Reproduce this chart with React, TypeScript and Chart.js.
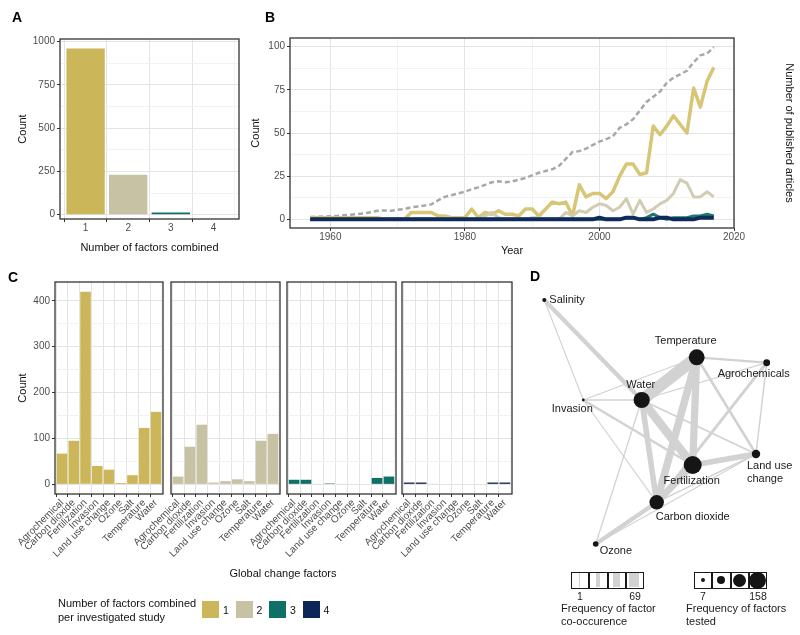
import React, { useEffect, useRef } from 'react';
import { Chart, registerables } from 'chart.js';

Chart.register(...registerables);

const FONT = '"Liberation Sans", Arial, Helvetica, sans-serif';
Chart.defaults.font.family = FONT;

// ---------------- DATA ----------------
// Panel A
const factorsCombined = [1, 2, 3, 4];
const studiesPerCombination = [960, 230, 13, 2];

// Panel B
const years = [
  1957, 1958, 1959, 1960, 1961, 1962, 1963, 1964, 1965, 1966, 1967, 1968, 1969, 1970, 1971, 1972, 1973, 1974, 1975, 1976,
  1977, 1978, 1979, 1980, 1981, 1982, 1983, 1984, 1985, 1986, 1987, 1988, 1989, 1990, 1991, 1992, 1993, 1994, 1995, 1996,
  1997, 1998, 1999, 2000, 2001, 2002, 2003, 2004, 2005, 2006, 2007, 2008, 2009, 2010, 2011, 2012, 2013, 2014, 2015, 2016,
  2017,
];
const oneFactorStudies = [
  1, 1, 1, 1, 1, 1, 1, 1, 1, 1, 1, 0, 0, 0, 0, 4, 4, 4, 4, 2,
  2, 1, 1, 1, 6, 1, 4, 3, 5, 3, 3, 2, 6, 6, 2, 6, 10, 9, 10, 2,
  20, 13, 15, 15, 12, 16, 25, 32, 32, 26, 27, 54, 49, 54, 60, 55, 50, 76, 65, 80,
  88,
];
const twoFactorStudies = [
  0, 0, 0, 0, 0, 0, 0, 0, 0, 0, 0, 0, 0, 0, 0, 0, 0, 0, 0, 0,
  1, 1, 0, 0, 0, 0, 2, 4, 1, 0, 0, 0, 0, 1, 1, 0, 0, 0, 4, 2,
  5, 4, 7, 9, 8, 5, 7, 12, 3, 11, 4, 6, 9, 11, 15, 23, 21, 13, 13, 16,
  13,
];
const threeFactorStudies = [
  0, 0, 0, 0, 0, 0, 0, 0, 0, 0, 0, 0, 0, 0, 0, 0, 0, 0, 0, 0,
  0, 0, 0, 0, 0, 0, 0, 0, 0, 0, 0, 0, 0, 0, 0, 0, 0, 0, 0, 0,
  0, 0, 0, 0, 0, 0, 0, 1, 1, 0, 1, 3, 1, 0, 1, 1, 1, 2, 2, 3,
  2,
];
const fourFactorStudies = [
  0, 0, 0, 0, 0, 0, 0, 0, 0, 0, 0, 0, 0, 0, 0, 0, 0, 0, 0, 0,
  0, 0, 0, 0, 0, 0, 0, 0, 0, 0, 0, 0, 0, 0, 0, 0, 0, 0, 0, 0,
  0, 0, 0, 1, 0, 0, 0, 1, 1, 0, 0, 0, 1, 1, 0, 0, 0, 0, 1, 1,
  1,
];
const publishedArticles = [
  400, 450, 500, 550, 600, 700, 800, 900, 1050, 1250, 1500, 1550, 1500, 1650, 1800, 2100, 2250, 2400, 2600, 3300,
  3900, 4200, 4500, 4800, 5250, 5550, 6000, 6450, 6600, 6450, 6600, 6900, 7200, 7650, 8100, 8400, 8700, 9300, 10500, 11700,
  11850, 12300, 12900, 13500, 13950, 14400, 15900, 16500, 17400, 18900, 20400, 21300, 22200, 23700, 24600, 25200, 25800, 27300, 28500, 28800,
  29900,
];

// Panel C
const factorNames = ['Agrochemical', 'Carbon dioxide', 'Fertilization', 'Invasion', 'Land use change', 'Ozone', 'Salt', 'Temperature', 'Water'];
const countsOneFactor = [67, 95, 420, 40, 32, 3, 20, 123, 158];
const countsTwoFactors = [17, 82, 130, 4, 7, 11, 7, 95, 110];
const countsThreeFactors = [10, 10, 1, 2, 1, 0, 0, 14, 17];
const countsFourFactors = [4, 4, 1, 0, 0, 0, 0, 4, 4];

// Panel D (network layout coordinates and frequencies)
const nodeNames = ['Salinity', 'Temperature', 'Agrochemicals', 'Water', 'Invasion', 'Fertilization', 'Land use change', 'Carbon dioxide', 'Ozone'];
const nodeLayoutX = [24.3, 176.7, 246.7, 121.7, 63.3, 172.7, 236, 136.7, 75.7];
const nodeLayoutY = [50, 107.3, 112.7, 150, 150, 215, 204, 252.3, 294];
const nodeFrequency = [12, 125, 28, 130, 7, 158, 40, 105, 20];
const edgeFrom = ['Temperature', 'Water', 'Temperature', 'Temperature', 'Water', 'Fertilization', 'Fertilization', 'Salinity', 'Carbon dioxide', 'Agrochemicals', 'Temperature', 'Temperature', 'Invasion', 'Water', 'Agrochemicals', 'Salinity', 'Invasion', 'Invasion', 'Invasion', 'Water', 'Water', 'Carbon dioxide', 'Ozone'];
const edgeTo = ['Water', 'Fertilization', 'Fertilization', 'Carbon dioxide', 'Carbon dioxide', 'Carbon dioxide', 'Land use change', 'Water', 'Ozone', 'Carbon dioxide', 'Agrochemicals', 'Land use change', 'Fertilization', 'Land use change', 'Land use change', 'Invasion', 'Water', 'Temperature', 'Carbon dioxide', 'Agrochemicals', 'Ozone', 'Land use change', 'Land use change'];
const edgeCooccurrence = [69, 48, 40, 42, 30, 38, 30, 22, 22, 14, 10, 12, 12, 7, 5, 3, 4, 3, 3, 4, 4, 5, 3];

// ---------------- STYLE ----------------
const FILLS = ['#cbb65a', '#c8c2a5', '#0f7166', '#0c2658'];
const LINE_COLS = ['#d6c676', '#d2ccb2', '#1b7b6f', '#0f2b5b'];
const GRID_MAJOR = '#e4e4e4';
const GRID_MINOR = '#f2f2f2';
const AXIS_DARK = '#333333';
const TICK_COL = '#4d4d4d';
const TITLE_COL = '#111111';
const TICK_FONT = { family: FONT, size: 10 };
const TITLE_FONT = { family: FONT, size: 11 };
const EDGE_COL = '#d2d2d2';

const FACET_BOXES = [
  [55, 163],
  [171, 280],
  [287, 396],
  [402, 512],
];

const isMult = (v: number, m: number) => Math.abs(v / m - Math.round(v / m)) < 1e-6;

const boxPlugin = {
  id: 'panelBox',
  afterDraw(chart: any, _args: any, opts: any) {
    if (!opts || !opts.draw) return;
    const { ctx, chartArea: a } = chart;
    ctx.save();
    ctx.strokeStyle = AXIS_DARK;
    ctx.lineWidth = 1.3;
    ctx.strokeRect(a.left, a.top, a.right - a.left, a.bottom - a.top);
    ctx.restore();
  },
};

const nodeLabelOffsets: Record<string, [number, number, CanvasTextAlign]> = {
  Salinity: [5, 0, 'left'],
  Temperature: [-11, -16, 'center'],
  Agrochemicals: [-13, 11, 'center'],
  Water: [-1, -15, 'center'],
  Invasion: [-11, 9, 'center'],
  Fertilization: [-1, 16, 'center'],
  'Land use change': [-9, 12, 'left'],
  'Carbon dioxide': [-1, 15, 'left'],
  Ozone: [4, 7, 'left'],
};

const nodeLabelPlugin = {
  id: 'nodeLabels',
  afterDatasetsDraw(chart: any) {
    const meta = chart.getDatasetMeta(0);
    const ctx = chart.ctx;
    ctx.save();
    ctx.font = `11px ${FONT}`;
    ctx.fillStyle = '#1a1a1a';
    ctx.textBaseline = 'middle';
    meta.data.forEach((pt: any, i: number) => {
      const name = nodeNames[i];
      const [dx, dy, align] = nodeLabelOffsets[name];
      const lines = name === 'Land use change' ? ['Land use', 'change'] : [name];
      ctx.textAlign = align;
      lines.forEach((ln, k) => ctx.fillText(ln, pt.x + dx, pt.y + dy + k * 13));
    });
    ctx.restore();
  },
};

const gridOpts = (m: number, extra: any = {}) => ({
  color: (c: any) => (c.tick && isMult(c.tick.value, m) ? GRID_MAJOR : GRID_MINOR),
  tickColor: (c: any) => (c.tick && isMult(c.tick.value, m) ? AXIS_DARK : 'rgba(0,0,0,0)'),
  tickLength: 3,
  lineWidth: 1,
  ...extra,
});

const baseOpts = (padding: any, box = true) => ({
  responsive: false,
  maintainAspectRatio: false,
  animation: false,
  devicePixelRatio: 1,
  events: [],
  layout: { padding, autoPadding: false },
  plugins: { legend: { display: false }, tooltip: { enabled: false }, title: { display: false }, panelBox: { draw: box } },
});

// ---------------- CONFIGS ----------------
const makeA = () => ({
  type: 'bar',
  data: {
    datasets: [
      {
        data: factorsCombined.map((x, i) => ({ x, y: studiesPerCombination[i] })),
        backgroundColor: FILLS,
        borderWidth: 0,
        barPercentage: 0.9,
        categoryPercentage: 1,
      },
    ],
  },
  options: {
    ...baseOpts({ top: 39, right: 7, bottom: 0, left: 0 }),
    scales: {
      x: {
        type: 'linear', min: 0.4, max: 4.6, offset: false,
        grid: gridOpts(1), border: { display: false },
        ticks: { stepSize: 1, includeBounds: false, padding: 0, font: TICK_FONT, color: TICK_COL, callback: (v: number) => (isMult(v, 1) ? String(v) : '') },
        title: { display: true, text: 'Number of factors combined', font: TITLE_FONT, color: TITLE_COL, padding: { top: 0, bottom: 7.4 } },
        afterFit: (s: any) => { s.height = 262 - 219; },
      },
      y: {
        type: 'linear', min: -25, max: 1015,
        grid: gridOpts(250), border: { display: false },
        ticks: { stepSize: 125, includeBounds: false, padding: 2, font: TICK_FONT, color: TICK_COL, callback: (v: number) => (isMult(v, 250) ? String(v) : '') },
        title: { display: true, text: 'Count', font: TITLE_FONT, color: TITLE_COL, padding: { top: 16.4, bottom: 0 } },
        afterFit: (s: any) => { s.width = 60; },
      },
    },
  },
  plugins: [boxPlugin],
});

const lineDs = (vals: number[], color: string, width: number) => ({
  data: years.map((x, i) => ({ x, y: vals[i] })),
  borderColor: color,
  borderWidth: width,
  pointRadius: 0,
  fill: false,
  tension: 0,
  borderJoinStyle: 'round',
  yAxisID: 'y',
});

const makeB = () => ({
  type: 'line',
  data: {
    datasets: [
      lineDs(fourFactorStudies, LINE_COLS[3], 4),
      lineDs(threeFactorStudies, LINE_COLS[2], 3),
      lineDs(twoFactorStudies, LINE_COLS[1], 3),
      lineDs(oneFactorStudies, LINE_COLS[0], 3.5),
      {
        data: years.map((x, i) => ({ x, y: publishedArticles[i] })),
        yAxisID: 'y2',
        borderColor: '#a8a8a8',
        borderWidth: 2.5,
        borderDash: [5, 3],
        pointRadius: 0,
        fill: false,
        tension: 0,
      },
    ],
  },
  options: {
    ...baseOpts({ top: 38, right: 0, bottom: 0, left: 0 }),
    scales: {
      x: {
        type: 'linear', min: 1954, max: 2020,
        grid: gridOpts(20), border: { display: false },
        ticks: { stepSize: 10, includeBounds: false, padding: 0, maxRotation: 0, font: TICK_FONT, color: TICK_COL, callback: (v: number) => (isMult(v, 20) ? String(v) : '') },
        title: { display: true, text: 'Year', font: TITLE_FONT, color: TITLE_COL, padding: { top: 0, bottom: 4.4 } },
        afterFit: (s: any) => { s.height = 262 - 228; },
      },
      y: {
        type: 'linear', position: 'left', min: -5, max: 105,
        grid: gridOpts(25), border: { display: false },
        ticks: { stepSize: 12.5, includeBounds: false, padding: 2, font: TICK_FONT, color: TICK_COL, callback: (v: number) => (isMult(v, 25) ? String(v) : '') },
        title: { display: true, text: 'Count', font: TITLE_FONT, color: TITLE_COL, padding: { top: 9.4, bottom: 0 } },
        afterFit: (s: any) => { s.width = 50; },
      },
      y2: {
        type: 'linear', position: 'right', min: -1500, max: 31500,
        grid: gridOpts(10000, { drawOnChartArea: false }), border: { display: false },
        ticks: { stepSize: 5000, includeBounds: false, padding: 3, font: TICK_FONT, color: TICK_COL, callback: (v: number) => (isMult(v, 10000) ? String(v) : '') },
        title: { display: true, text: 'Number of published articles', font: TITLE_FONT, color: TITLE_COL, padding: { top: 4.4, bottom: 0 } },
        afterFit: (s: any) => { s.width = 66; },
      },
    },
  },
  plugins: [boxPlugin],
});

const makeFacet = (values: number[], color: string, first: boolean) => () => ({
  type: 'bar',
  data: {
    datasets: [
      {
        data: values.map((y, i) => ({ x: i + 1, y })),
        backgroundColor: color,
        borderWidth: 0,
        barPercentage: 0.9,
        categoryPercentage: 1,
      },
    ],
  },
  options: {
    ...baseOpts({ top: 42, right: 4, bottom: 0, left: first ? 0 : 60 }),
    scales: {
      x: {
        type: 'linear', min: 0.4, max: 9.6, offset: false,
        grid: gridOpts(1), border: { display: false },
        ticks: {
          stepSize: 1, includeBounds: false, autoSkip: false, minRotation: 45, maxRotation: 45, padding: 0,
          font: TICK_FONT, color: TICK_COL,
          callback: (v: number) => (isMult(v, 1) && factorNames[v - 1] ? factorNames[v - 1] : ''),
        },
        afterFit: (s: any) => { s.height = 76; },
      },
      y: {
        type: 'linear', min: -21, max: 441,
        grid: gridOpts(100, first ? {} : { drawTicks: false }), border: { display: false },
        ticks: { display: first, stepSize: 50, includeBounds: false, padding: 2, font: TICK_FONT, color: TICK_COL, callback: (v: number) => (isMult(v, 100) ? String(v) : '') },
        title: { display: first, text: 'Count', font: TITLE_FONT, color: TITLE_COL, padding: { top: 21.4, bottom: 0 } },
        afterFit: (s: any) => { s.width = first ? 60 : 0; },
      },
    },
  },
  plugins: [boxPlugin],
});

const nodeRadius = (f: number) => 1.4 + (7.6 * (Math.sqrt(f) - Math.sqrt(7))) / (Math.sqrt(158) - Math.sqrt(7));
const edgeWidth = (w: number) => 0.8 + ((w - 1) / 68) * 11.2;

const makeD = () => {
  const idx = (n: string) => nodeNames.indexOf(n);
  const edges = edgeFrom.map((a, i) => {
    const ia = idx(a);
    const ib = idx(edgeTo[i]);
    return {
      data: [
        { x: nodeLayoutX[ia], y: nodeLayoutY[ia] },
        { x: nodeLayoutX[ib], y: nodeLayoutY[ib] },
      ],
      showLine: true,
      borderColor: EDGE_COL,
      borderWidth: edgeWidth(edgeCooccurrence[i]),
      pointRadius: 0,
      order: 1,
    };
  });
  return {
    type: 'scatter',
    data: {
      datasets: [
        {
          data: nodeNames.map((_, i) => ({ x: nodeLayoutX[i], y: nodeLayoutY[i] })),
          pointRadius: nodeFrequency.map(nodeRadius),
          pointBackgroundColor: '#151515',
          pointBorderColor: '#151515',
          pointBorderWidth: 0,
          order: 0,
        },
        ...edges,
      ],
    },
    options: {
      ...baseOpts({ top: 0, right: 0, bottom: 0, left: 0 }, false),
      scales: {
        x: { type: 'linear', display: false, min: 0, max: 280 },
        y: { type: 'linear', display: false, min: 0, max: 320, reverse: true },
      },
    },
    plugins: [nodeLabelPlugin],
  };
};

// ---------------- COMPONENTS ----------------
function ChartCanvas({ left, top, width, height, make }: { left: number; top: number; width: number; height: number; make: () => any }) {
  const ref = useRef<HTMLCanvasElement>(null);
  useEffect(() => {
    const chart = new Chart(ref.current as HTMLCanvasElement, make());
    return () => chart.destroy();
  }, []);
  return <canvas ref={ref} width={width} height={height} style={{ position: 'absolute', left, top, width, height }} />;
}

function Txt({ x, y, children, size = 11, bold = false, align = 'center', color = '#1a1a1a' }: any) {
  const tx = align === 'center' ? '-50%' : align === 'right' ? '-100%' : '0';
  return (
    <div
      style={{
        position: 'absolute', left: x, top: y, transform: `translate(${tx}, -50%)`,
        fontSize: size, fontWeight: bold ? 700 : 400, color, whiteSpace: 'nowrap', lineHeight: 1, fontFamily: FONT,
      }}
    >
      {children}
    </div>
  );
}

const facetValues = [countsOneFactor, countsTwoFactors, countsThreeFactors, countsFourFactors];
const legendLabels = ['1', '2', '3', '4'];

export default function App() {
  const coBarWidths = [1.5, 4, 7, 10];
  const sizeLegendRadii = [2, 4, 6.5, 8.5];
  return (
    <div style={{ position: 'fixed', left: 0, top: 0, width: 800, height: 635, background: '#fff', overflow: 'hidden', fontFamily: FONT }}>
      <ChartCanvas left={0} top={0} width={246} height={262} make={makeA} />
      <ChartCanvas left={240} top={0} width={560} height={262} make={makeB} />
      {FACET_BOXES.map(([l, r], i) => (
        <ChartCanvas key={i} left={l - 60} top={240} width={r - l + 64} height={330} make={makeFacet(facetValues[i], FILLS[i], i === 0)} />
      ))}
      <ChartCanvas left={520} top={250} width={280} height={320} make={makeD} />

      <Txt x={17} y={17} size={14} bold color="#000">A</Txt>
      <Txt x={270} y={17} size={14} bold color="#000">B</Txt>
      <Txt x={13} y={277} size={14} bold color="#000">C</Txt>
      <Txt x={535} y={276} size={14} bold color="#000">D</Txt>

      <Txt x={283} y={573} color={TITLE_COL}>Global change factors</Txt>

      {/* fill legend */}
      <Txt x={58} y={603} align="left" color={TITLE_COL}>Number of factors combined</Txt>
      <Txt x={58} y={617} align="left" color={TITLE_COL}>per investigated study</Txt>
      {FILLS.map((c, i) => (
        <React.Fragment key={i}>
          <div style={{ position: 'absolute', left: 202 + i * 33.5, top: 601, width: 17, height: 17, background: c }} />
          <Txt x={223 + i * 33.5} y={610} size={10.5} align="left" color={TITLE_COL}>{legendLabels[i]}</Txt>
        </React.Fragment>
      ))}

      {/* co-occurrence legend */}
      {coBarWidths.map((w, i) => (
        <div key={i} style={{ position: 'absolute', left: 571 + i * 18.25, top: 572, width: 18.25, height: 17, boxSizing: 'border-box', border: '1.5px solid #1a1a1a', background: '#fff' }}>
          <div style={{ position: 'absolute', left: (15.25 - w) / 2, top: 0, width: w, height: 14, background: EDGE_COL }} />
        </div>
      ))}
      <Txt x={580} y={596} size={10.5}>1</Txt>
      <Txt x={635} y={596} size={10.5}>69</Txt>
      <Txt x={561} y={608} align="left">Frequency of factor</Txt>
      <Txt x={561} y={621} align="left">co-occurence</Txt>

      {/* node size legend */}
      {sizeLegendRadii.map((r, i) => (
        <div key={i} style={{ position: 'absolute', left: 694 + i * 18.25, top: 572, width: 18.25, height: 17, boxSizing: 'border-box', border: '1.5px solid #1a1a1a', background: '#fff' }}>
          <div style={{ position: 'absolute', left: 7.6 - r, top: 7 - r, width: 2 * r, height: 2 * r, borderRadius: '50%', background: '#151515' }} />
        </div>
      ))}
      <Txt x={703} y={596} size={10.5}>7</Txt>
      <Txt x={758} y={596} size={10.5}>158</Txt>
      <Txt x={686} y={608} align="left">Frequency of factors</Txt>
      <Txt x={686} y={621} align="left">tested</Txt>
    </div>
  );
}
